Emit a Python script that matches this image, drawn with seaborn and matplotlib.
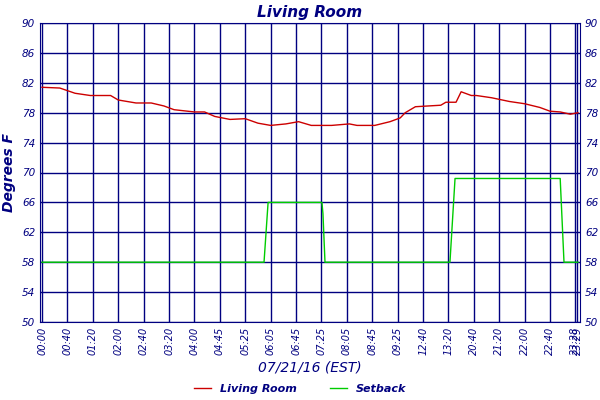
import matplotlib
matplotlib.use("Agg")
import matplotlib.pyplot as plt
import seaborn as sns
import pandas as pd
import numpy as np

tick_labels = ["00:00","00:40","01:20","02:00","02:40","03:20","04:00","04:45","05:25","06:05",
               "06:45","07:25","08:05","08:45","09:25","12:40","13:20","20:40","21:20","22:00",
               "22:40","23:28","23:29"]
tick_pos = list(range(21)) + [21.0, 21.08]

# positions in tick-index units
room_x = [0,0.7,1.3,1.9,2.7,3.0,3.7,4.3,4.8,5.2,6.0,6.4,6.8,7.4,8.0,8.5,9.0,9.6,10.1,10.6,11.4,12.1,12.4,13.1,13.7,14.1,14.3,14.7,15.7,15.9,16.3,16.5,16.9,17.1,17.7,18.4,19.0,19.6,20.0,20.4,20.8,21.1]
room_y = [81.4,81.3,80.6,80.3,80.3,79.7,79.3,79.3,78.9,78.4,78.1,78.1,77.5,77.1,77.2,76.6,76.3,76.5,76.8,76.3,76.3,76.5,76.3,76.3,76.8,77.3,78.0,78.8,79.0,79.4,79.4,80.8,80.3,80.3,80.0,79.5,79.2,78.7,78.2,78.1,77.8,78.0]
set_x = [0,8.74,8.9,11.02,11.06,11.14,16.06,16.26,20.4,20.55,21.1]
set_y = [58,58,66,66,64.5,58,58,69.2,69.2,58,58]

navy = "#000080"
df = pd.concat([pd.DataFrame({"x":room_x,"y":room_y,"s":"Living Room"}),
                pd.DataFrame({"x":set_x,"y":set_y,"s":"Setback"})])

fig = plt.figure(figsize=(6,4), dpi=100)
ax = fig.add_axes([40/600, 1-322/400, 540/600, 299/400])
sns.lineplot(data=df, x="x", y="y", hue="s", palette={"Living Room":"#cc0000","Setback":"#00cc00"},
             ax=ax, linewidth=1, legend=False, sort=False, estimator=None)
ax.set_xlim(-0.08, 21.18)
ax.set_ylim(50, 90)
ax.set_yticks(range(50, 91, 4))
ax.set_xticks(tick_pos)
ax.set_xticklabels(tick_labels, rotation=90, fontsize=7, color=navy, style="italic")
ax.tick_params(axis="y", labelsize=7.5, labelcolor=navy, right=True, labelright=True, length=0)
ax.tick_params(axis="x", length=0)
for t in ax.get_yticklabels(): t.set_style("italic")
ax.grid(True, color=navy, linewidth=1)
ax.set_axisbelow(True)
for s in ax.spines.values(): s.set_color(navy)
ax.set_xlabel("07/21/16 (EST)", color=navy, style="italic", fontsize=10, labelpad=4)
ax.set_ylabel("Degrees F", color=navy, style="italic", fontweight="bold", fontsize=10)
ax.set_title("Living Room", color=navy, style="italic", fontweight="bold", fontsize=11, pad=4)
from matplotlib.lines import Line2D
h = [Line2D([],[],color="#cc0000",lw=1), Line2D([],[],color="#00cc00",lw=1)]
leg = fig.legend(h, ["Living Room","Setback"], loc="lower center", bbox_to_anchor=(0.5,-0.01), ncol=2,
                 frameon=False, fontsize=8, handlelength=1.5, columnspacing=3)
for t in leg.get_texts(): t.set_color(navy); t.set_style("italic"); t.set_fontweight("bold")
fig.savefig("out.png", dpi=100)
